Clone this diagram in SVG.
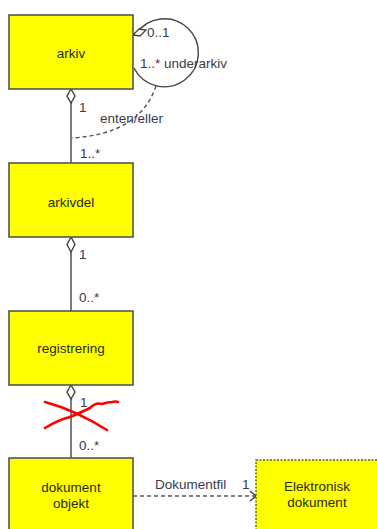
<svg xmlns="http://www.w3.org/2000/svg" width="377" height="529" viewBox="0 0 377 529">
<style>
.box{fill:#ffff00;stroke:#555;stroke-width:1.6}
.dbox{fill:#ffff00;stroke:#555;stroke-width:1.4;stroke-dasharray:2,1.5}
.nt{font-family:"Liberation Sans",Arial,sans-serif;font-size:13.5px;fill:#2a2a10;text-anchor:middle}
.lb{font-family:"Liberation Sans",Arial,sans-serif;font-size:13.5px;fill:#3a3a4a}
.ln{fill:none;stroke:#444;stroke-width:1.4}
.dash{fill:none;stroke:#555;stroke-width:1.4;stroke-dasharray:4,3}
.dia{fill:#fff;stroke:#444;stroke-width:1.4}
.red{fill:none;stroke:#ff0000;stroke-width:2.6;stroke-linecap:round;stroke-linejoin:round}
</style>
<rect width="377" height="529" fill="#fff"/>
<g id="connectors">
  <path class="ln" d="M136,34 A34,34 0 1 1 134,68"/>
  <path class="dia" d="M133,35 L139,29 L146,30 L140,36 Z"/>
  <path class="dash" d="M156,86 Q140,134 72,138"/>
  <line class="ln" x1="71" y1="103" x2="71" y2="163"/>
  <path class="dia" d="M71,89 L75,96 L71,103 L67,96 Z"/>
  <line class="ln" x1="71" y1="252" x2="71" y2="312"/>
  <path class="dia" d="M71,237 L75,244.5 L71,252 L67,244.5 Z"/>
  <line class="ln" x1="71" y1="399" x2="71" y2="458"/>
  <path class="dia" d="M71,385 L75,392 L71,399 L67,392 Z"/>
  <line class="dash" x1="133" y1="496" x2="255" y2="496"/>
  <path class="ln" d="M250,491 L256,496 L250,501"/>
  <text class="lb" x="147" y="37">0..1</text>
  <text class="lb" x="140" y="68">1..* underarkiv</text>
  <text class="lb" x="79" y="112">1</text>
  <text class="lb" x="100" y="123">enten/eller</text>
  <text class="lb" x="80" y="158">1..*</text>
  <text class="lb" x="79" y="259">1</text>
  <text class="lb" x="79" y="302">0..*</text>
  <text class="lb" x="80" y="407">1</text>
  <text class="lb" x="79" y="450">0..*</text>
  <text class="lb" x="155" y="489">Dokumentfil</text>
  <text class="lb" x="242" y="489">1</text>
</g>
<g id="arkiv">
  <rect class="box" x="9" y="15" width="124" height="74"/>
  <text class="nt" x="71" y="58">arkiv</text>
</g>
<g id="arkivdel">
  <rect class="box" x="9" y="163" width="124" height="74"/>
  <text class="nt" x="71" y="207">arkivdel</text>
</g>
<g id="registrering">
  <rect class="box" x="9" y="311" width="124" height="74"/>
  <text class="nt" x="71" y="353">registrering</text>
</g>
<g id="dokumentobjekt">
  <rect class="box" x="9" y="458" width="124" height="74"/>
  <text class="nt" x="71" y="492">dokument</text>
  <text class="nt" x="71" y="508">objekt</text>
</g>
<g id="elektronisk">
  <rect class="dbox" x="256" y="460" width="124" height="74"/>
  <text class="nt" x="317" y="491">Elektronisk</text>
  <text class="nt" x="317" y="507">dokument</text>
</g>
<g id="redx">
  <path class="red" d="M45,402 Q75,410 107,430"/>
  <path class="red" d="M45,428 Q58,420 70,417 Q82,412 90,408 Q96,402 102,404 Q108,402 112,402 Q116,401 118,402"/>
</g>
</svg>
